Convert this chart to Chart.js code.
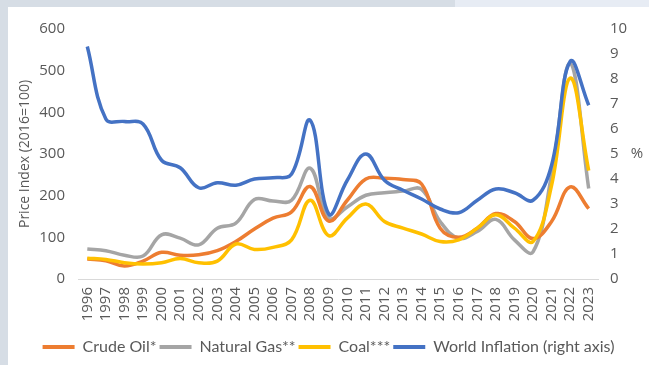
<!DOCTYPE html>
<html>
<head>
<meta charset="utf-8">
<script src="https://cdn.jsdelivr.net/npm/chart.js@4.4.1/dist/chart.umd.min.js"></script>
<style>
  html, body { margin: 0; padding: 0; }
  body { width: 649px; height: 365px; background: #d6dde5; position: relative; overflow: hidden; }
  .strip { position: absolute; left: 455px; top: 0; width: 194px; height: 7px; background: #e7ecf4; }
  .panel { position: absolute; left: 8px; top: 7px; width: 641px; height: 358px; background: #ffffff; }
</style>
</head>
<body>
<div class="strip"></div>
<div class="panel"><canvas id="priceChart" width="641" height="358"></canvas></div>
<script>
  // Yearly categories
  const years = ['1996', '1997', '1998', '1999', '2000', '2001', '2002', '2003', '2004', '2005',
    '2006', '2007', '2008', '2009', '2010', '2011', '2012', '2013', '2014', '2015',
    '2016', '2017', '2018', '2019', '2020', '2021', '2022', '2023'];

  // Price indices, 2016 = 100
  const crudeOil = [48, 44, 31, 43, 64, 57, 58, 68, 90, 120, 146, 161, 222, 139, 189, 240, 242, 239, 228,
    122, 100, 122, 157, 138, 97, 138, 221, 169];
  const naturalGas = [72, 68, 57, 55, 106, 98, 82, 122, 134, 191, 187, 189, 266, 146, 173, 201, 207, 211, 215,
    138, 98, 114, 143, 94, 65, 250, 517, 217];
  const coal = [50, 47, 39, 36, 39, 49, 39, 43, 84, 71, 76, 94, 189, 104, 146, 180, 138, 122, 108,
    90, 94, 122, 154, 122, 90, 225, 482, 260];

  // World inflation, %
  const inflation = [9.3, 6.4, 6.3, 6.2, 4.75, 4.45, 3.65, 3.85, 3.75, 4.0, 4.05, 4.2, 6.35, 2.6, 3.95, 5.0,
    3.95, 3.55, 3.2, 2.8, 2.65, 3.15, 3.6, 3.45, 3.15, 4.55, 8.7, 6.95];

  const leftTicks = [0, 100, 200, 300, 400, 500, 600];
  const rightTicks = [0, 1, 2, 3, 4, 5, 6, 7, 8, 9, 10];

  const FONT = "'Open Sans', sans-serif";
  const LEGEND_FONT = "Lato, sans-serif";
  const TEXT = '#595959';

  function series(label, data, color, axis, order) {
    return {
      label: label,
      data: data,
      borderColor: color,
      backgroundColor: color,
      borderWidth: 3.5,
      pointRadius: 0,
      tension: 0.4,
      yAxisID: axis,
      order: order
    };
  }

  // "%" beside the right axis, drawn upright
  const percentLabel = {
    id: 'percentLabel',
    afterDraw: function (chart) {
      const ctx = chart.ctx;
      const y = chart.scales.y2;
      ctx.save();
      ctx.fillStyle = TEXT;
      ctx.font = '15px ' + FONT;
      ctx.textAlign = 'center';
      ctx.textBaseline = 'middle';
      ctx.fillText('%', 629, y.getPixelForValue(5));
      ctx.restore();
    }
  };

  new Chart(document.getElementById('priceChart'), {
    type: 'line',
    data: {
      labels: years,
      datasets: [
        series('Crude Oil*', crudeOil, '#ed7d31', 'y', 2),
        series('Natural Gas**', naturalGas, '#a5a5a5', 'y', 3),
        series('Coal***', coal, '#ffc000', 'y', 1),
        series('World Inflation (right axis)', inflation, '#4472c4', 'y2', 0)
      ]
    },
    options: {
      responsive: false,
      animation: false,
      layout: { padding: { top: 11, bottom: 0 } },
      plugins: {
        tooltip: { enabled: false },
        legend: {
          position: 'bottom',
          labels: {
            font: { family: LEGEND_FONT, size: 16 },
            color: TEXT,
            boxWidth: 32,
            boxHeight: 4,
            padding: 3,
            sort: function (a, b) { return a.datasetIndex - b.datasetIndex; },
            generateLabels: function (chart) {
              return chart.data.datasets.map(function (ds, i) {
                return {
                  text: ds.label,
                  fillStyle: ds.borderColor,
                  strokeStyle: ds.borderColor,
                  lineWidth: 0,
                  fontColor: TEXT,
                  datasetIndex: i
                };
              });
            }
          }
        }
      },
      scales: {
        x: {
          offset: true,
          grid: { display: false, drawTicks: false },
          border: { display: true, color: '#d9d9d9', width: 1 },
          ticks: {
            font: { family: FONT, size: 15 },
            color: TEXT,
            minRotation: 90,
            maxRotation: 90,
            autoSkip: false,
            padding: 8
          },
          afterFit: function (scale) { scale.height = 57; }
        },
        y: {
          position: 'left',
          min: 0,
          max: 600,
          grid: { display: false, drawTicks: false },
          border: { display: false },
          afterBuildTicks: function (scale) {
            scale.ticks = leftTicks.map(function (v) { return { value: v }; });
          },
          ticks: {
            font: { family: FONT, size: 15 },
            color: TEXT,
            padding: 13
          },
          title: {
            display: true,
            text: 'Price Index (2016=100)',
            font: { family: FONT, size: 14 },
            color: TEXT,
            padding: { top: 9, bottom: 0 }
          },
          afterFit: function (scale) { scale.width = 70; }
        },
        y2: {
          position: 'right',
          min: 0,
          max: 10,
          grid: { display: false, drawTicks: false },
          border: { display: false },
          afterBuildTicks: function (scale) {
            scale.ticks = rightTicks.map(function (v) { return { value: v }; });
          },
          ticks: {
            font: { family: FONT, size: 15 },
            color: TEXT,
            padding: 12
          },
          afterFit: function (scale) { scale.width = 51; }
        }
      }
    },
    plugins: [percentLabel]
  });
</script>
</body>
</html>
